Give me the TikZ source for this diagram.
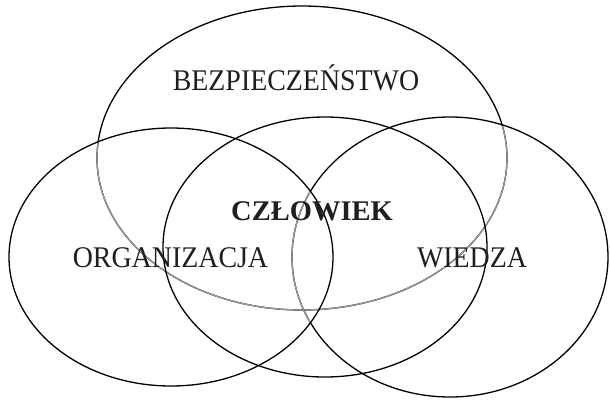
\documentclass[tikz,border=0pt]{standalone}
\usepackage{fontspec}
\setmainfont{Liberation Serif}
\begin{document}
\begin{tikzpicture}[x=1pt,y=-1pt,
  ring/.style={draw=black,line width=1.3pt},
  hidden/.style={draw=black!40,line width=1.3pt},
  lbl/.style={font=\fontsize{30}{32}\selectfont,xscale=0.93,text=black!88},
  bold/.style={font=\fontsize{28.5}{30}\selectfont\bfseries,text=black!88}]
\useasboundingbox (0,0) rectangle (610,400);
% top ellipse (behind)
\draw[ring] (302,158) ellipse [x radius=205,y radius=152];
\begin{scope}
  \clip (171,257) ellipse [x radius=162,y radius=129]
        (325,247) ellipse [x radius=162,y radius=130]
        (450,257) ellipse [x radius=158,y radius=140];
  \draw[hidden] (302,158) ellipse [x radius=205,y radius=152];
\end{scope}
% right circle (behind left circle)
\draw[ring] (450,257) ellipse [x radius=158,y radius=140];
\begin{scope}
  \clip (171,257) ellipse [x radius=162,y radius=129];
  \draw[hidden] (450,257) ellipse [x radius=158,y radius=140];
\end{scope}
% left and middle circles
\draw[ring] (171,257) ellipse [x radius=162,y radius=129];
\draw[ring] (325,247) ellipse [x radius=162,y radius=130];
% labels
\node[lbl] (bez) at (296,78) {BEZPIECZEŃSTWO};
\node[lbl] (org) at (170.5,258) {ORGANIZACJA};
\node[lbl] (wie) at (472,257.5) {WIEDZA};
\node[bold] (czl) at (312,211.5) {CZŁOWIEK};
\end{tikzpicture}
\end{document}
